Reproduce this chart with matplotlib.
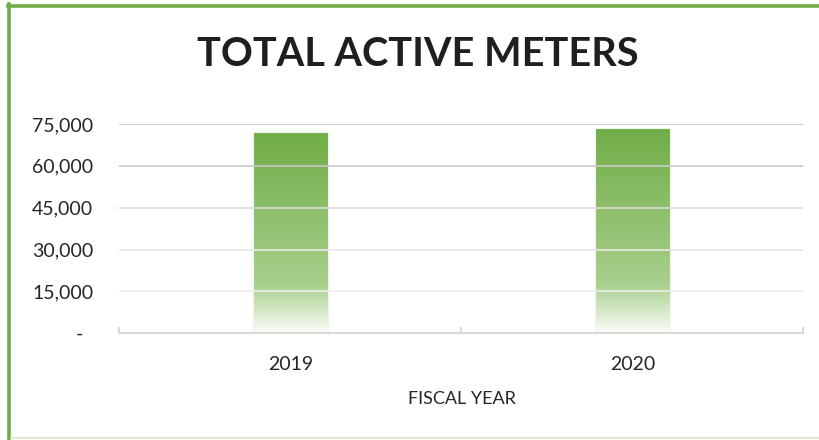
import matplotlib
matplotlib.use("Agg")
import matplotlib.pyplot as plt
import numpy as np
from matplotlib.colors import LinearSegmentedColormap
from matplotlib.lines import Line2D

# ---- data ----
years = ["2019", "2020"]
meters = [72000, 73600]
yticks = [0, 15000, 30000, 45000, 60000, 75000]
ytick_labels = ["-  ", "15,000", "30,000", "45,000", "60,000", "75,000"]
title = "TOTAL ACTIVE METERS"
xlabel = "FISCAL YEAR"

plt.rcParams['font.family'] = ['Lato', 'DejaVu Sans']

fig = plt.figure(figsize=(8.2, 4.4), dpi=100)
ax = fig.add_axes([119.5 / 820, 106.7 / 440, 684 / 820, 209.3 / 440])

cmap = LinearSegmentedColormap.from_list(
    "g", [(0.0, "#FBFDF9"), (0.24, "#A8CF8C"), (1.0, "#70AD47")])

x = np.arange(len(years))
width = 0.22
bars = ax.bar(x, meters, width=width, color="none", edgecolor="#EEF6E8",
              linewidth=0.8, zorder=2)
grad = np.linspace(0, 1, 256).reshape(-1, 1)
for b in bars:
    x0, w, h = b.get_x(), b.get_width(), b.get_height()
    im = ax.imshow(grad, cmap=cmap, origin="lower", aspect="auto",
                   extent=[x0, x0 + w, 0, h], zorder=1, interpolation="bilinear")
    im.set_clip_path(b)

ax.set_xlim(-0.5, len(years) - 0.5)
ax.set_ylim(0, 75000)

grid_colors = ["#EEEEEE", "#E8E8E8", "#DCDCDC", "#C8C8C8", "#C4C4C4"]
for yv, c in zip(yticks[1:], grid_colors):
    ax.axhline(yv, color=c, linewidth=1.2, zorder=3)

for s in ["top", "right", "left"]:
    ax.spines[s].set_visible(False)
ax.spines["bottom"].set_color("#D9D9D9")
ax.spines["bottom"].set_linewidth(1.5)
ax.spines["bottom"].set_zorder(4)

ax.set_yticks(yticks)
ax.set_yticklabels(ytick_labels)
ax.tick_params(axis="y", length=0, pad=19, labelsize=14, labelcolor="#262626")
ax.set_xticks(x)
ax.set_xticklabels(years)
ax.tick_params(axis="x", length=0, pad=16, labelsize=14, labelcolor="#262626")

# category separator tick marks (pointing up)
for xv in [-0.5, 0.5, 1.5]:
    ax.add_line(Line2D([xv, xv], [0, 1800], color="#D9D9D9", linewidth=1.5,
                       zorder=4, clip_on=False))

ax.set_xlabel(xlabel, fontsize=13, color="#262626", labelpad=13)

fig.text(418 / 820, 1 - 54 / 440, title, ha="center", va="center",
         fontsize=28.5, fontweight="bold", color="#1F1F1F")

# frame lines
fig.add_artist(Line2D([9.5 / 820, 9.5 / 820], [0, 1 - 4 / 440],
                      transform=fig.transFigure, color="#70AD47", linewidth=2.6))
fig.add_artist(Line2D([8 / 820, 1], [1 - 5.8 / 440, 1 - 5.8 / 440],
                      transform=fig.transFigure, color="#70AD47", linewidth=2.6))
fig.add_artist(Line2D([11 / 820, 1], [1.8 / 440, 1.8 / 440],
                      transform=fig.transFigure, color="#D5E6C8", linewidth=1.2))

fig.savefig("out.png", dpi=100, facecolor="white")
